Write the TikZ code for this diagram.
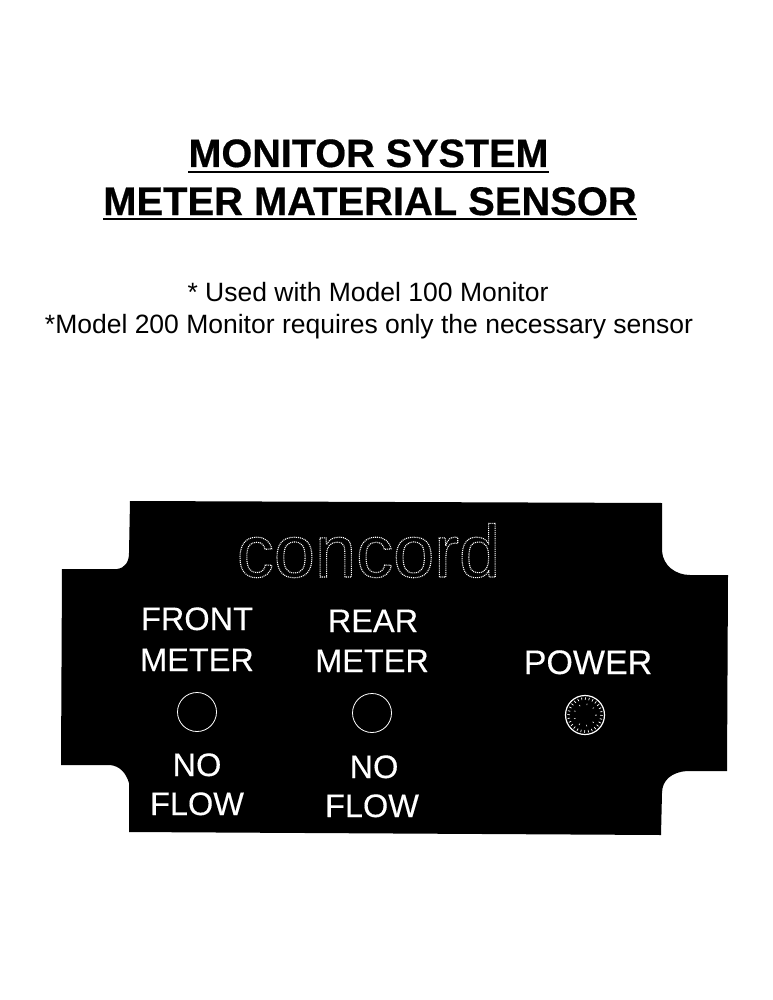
\documentclass[tikz,border=0pt]{standalone}
\usepackage{fontspec}
\setmainfont{Liberation Sans}
\newfontfamily\headfont[FakeBold=0.5]{Liberation Sans Bold}
\newfontfamily\panelfont[FakeBold=0.25]{Liberation Sans}
\tikzset{
  x=1pt,y=-1pt,
  txt/.style={inner sep=0pt,outer sep=0pt,anchor=base,align=center},
  headline/.style={txt,font=\headfont\fontsize{39.6}{40}\selectfont},
  headlinewide/.style={txt,font=\headfont\fontsize{39.9}{40}\selectfont},
  noteline/.style={txt,font=\fontsize{26.5}{27}\selectfont},
  paneltext/.style={txt,text=white,font=\panelfont\fontsize{32.5}{33}\selectfont},
  powertext/.style={txt,text=white,font=\panelfont\fontsize{34}{35}\selectfont},
  led/.style={circle,draw=white,line width=0.8pt,fill=black,minimum size=39pt,inner sep=0pt},
  ulineb/.style={line width=2pt,black}
}
\begin{document}
\begin{tikzpicture}
\useasboundingbox[fill=white] (0,0) rectangle (772,1000);
\node[headline] (t1) at (368.5,167) {MONITOR SYSTEM};
\node[headlinewide] (t2) at (370,215) {METER MATERIAL SENSOR};
\draw[ulineb] ([yshift=-5pt]t1.base west) -- ([yshift=-5pt]t1.base east);
\draw[ulineb] ([yshift=-4pt]t2.base west) -- ([yshift=-4pt]t2.base east);
\node[noteline] (n1) at (368,301) {* Used with Model 100 Monitor};
\node[noteline] (n2) at (369,333) {*Model 200 Monitor requires only the necessary sensor};
\fill[black] (130,501) -- (662,503) -- (662,551)
  .. controls (663,566) and (676,575) .. (690,575)
  -- (728,575) -- (727,771) -- (687,771)
  .. controls (672,772) and (662,780) .. (662,793)
  -- (661,835) -- (129,832) -- (129,783)
  .. controls (126,773) and (120,766) .. (110,765)
  -- (61,765) -- (62,569) -- (117,569)
  .. controls (125,568) and (129,562) .. (129,553) -- cycle;
\node[txt,text=white,font=\fontsize{74}{74}\selectfont] (logo) at (368.5,577)
  {\special{pdf:code q 1 Tr 1.1 w 1 1 1 RG [1 0.9] 0 d}concord\special{pdf:code Q}};
\node[paneltext] (f1) at (197,630) {FRONT};
\node[paneltext] (f2) at (197,671) {METER};
\node[led] (l1) at (197,712) {};
\node[paneltext] (f3) at (197,776) {NO};
\node[paneltext] (f4) at (197,815) {FLOW};
\node[paneltext] (r1) at (373,632) {REAR};
\node[paneltext] (r2) at (372,672) {METER};
\node[led] (l2) at (372,713) {};
\node[paneltext] (r3) at (374,778) {NO};
\node[paneltext] (r4) at (372,817) {FLOW};
\node[powertext] (p1) at (588,674) {POWER};
\node[led,line width=1.2pt] (l3) at (585,715) {};
\draw[white,line width=2.5pt,dash pattern=on 0.7pt off 3pt] (l3.center) circle (16.5);
\draw[white,line width=1.5pt,dash pattern=on 0.6pt off 7pt] (l3.center) circle (11);
\end{tikzpicture}
\end{document}
